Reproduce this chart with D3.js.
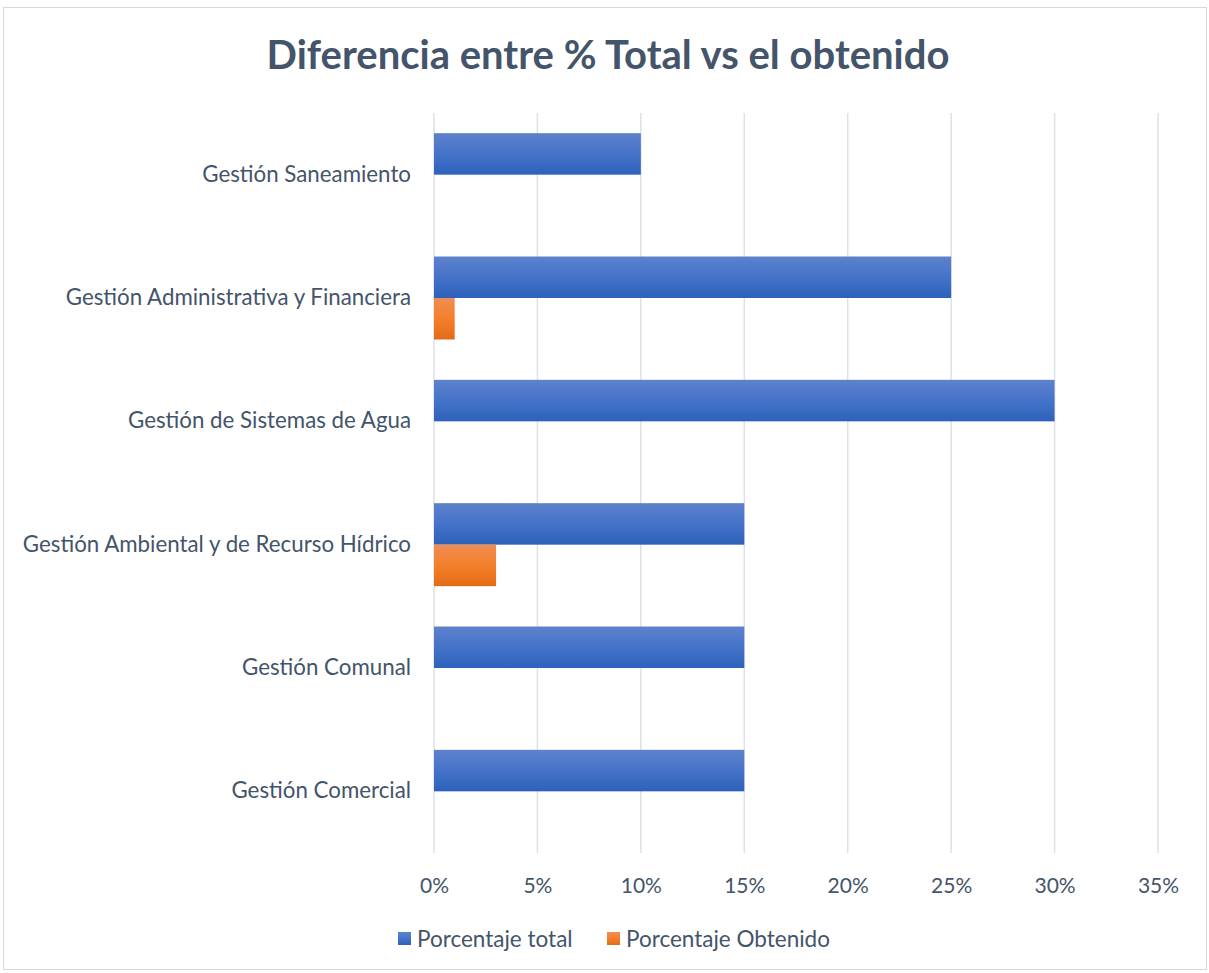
<!DOCTYPE html>
<html>
<head>
<meta charset="utf-8">
<script src="https://cdn.jsdelivr.net/npm/d3@7"></script>
<style>
  html, body { margin: 0; padding: 0; background: #fff; }
  svg { display: block; }
</style>
</head>
<body>
<svg id="chart" width="1209" height="973"></svg>
<script>
// Categories listed bottom-to-top as in the source worksheet
const categories = [
  "Gestión Comercial",
  "Gestión Comunal",
  "Gestión Ambiental y de Recurso Hídrico",
  "Gestión de Sistemas de Agua",
  "Gestión Administrativa y Financiera",
  "Gestión Saneamiento"
];
const porcentajeTotal = [0.15, 0.15, 0.15, 0.30, 0.25, 0.10];
const porcentajeObtenido = [0, 0, 0.03, 0, 0.01, 0];
const seriesNames = ["Porcentaje total", "Porcentaje Obtenido"];
const xTicks = [0, 0.05, 0.10, 0.15, 0.20, 0.25, 0.30, 0.35];

const textColor = "#44546A";
const font = "Lato, 'Open Sans', sans-serif";

const svg = d3.select("#chart");

// Gradients for bar fills
const defs = svg.append("defs");
function grad(id, top, mid, bottom) {
  const g = defs.append("linearGradient").attr("id", id)
    .attr("x1", 0).attr("y1", 0).attr("x2", 0).attr("y2", 1);
  g.append("stop").attr("offset", "0%").attr("stop-color", top);
  g.append("stop").attr("offset", "50%").attr("stop-color", mid);
  g.append("stop").attr("offset", "100%").attr("stop-color", bottom);
}
grad("gBlue", "#5d82cc", "#4573c9", "#2d61ba");
grad("gOrange", "#f08d55", "#f47f2a", "#e36b18");
const fills = ["url(#gBlue)", "url(#gOrange)"];

// Chart frame
svg.append("rect")
  .attr("x", 3.5).attr("y", 7.5).attr("width", 1203).attr("height", 962)
  .attr("fill", "#fff").attr("stroke", "#d9d9d9").attr("stroke-width", 1);

// Title
svg.append("text")
  .attr("x", 608).attr("y", 69)
  .attr("text-anchor", "middle")
  .attr("font-family", font)
  .attr("font-weight", "bold")
  .attr("font-size", 40)
  .attr("fill", textColor)
  .text("Diferencia entre % Total vs el obtenido");

const plot = { left: 434, right: 1158, top: 113, bottom: 853 };

const x = d3.scaleLinear().domain([0, 0.35]).range([plot.left, plot.right]);
const y = d3.scaleBand()
  .domain(categories.slice().reverse())
  .range([plot.top, plot.bottom])
  .paddingInner(0).paddingOuter(0);
const inner = d3.scaleBand()
  .domain(seriesNames)
  .range([0, y.bandwidth()])
  .paddingOuter(0.486).paddingInner(0);

// Vertical gridlines
svg.append("g")
  .selectAll("line")
  .data(xTicks)
  .join("line")
  .attr("x1", d => x(d)).attr("x2", d => x(d))
  .attr("y1", plot.top).attr("y2", plot.bottom)
  .attr("stroke", "#dde1e8").attr("stroke-width", 1.5);

// X axis tick labels
const xAxis = d3.axisBottom(x).tickValues(xTicks).tickFormat(d3.format(".0%")).tickSize(0).tickPadding(0);
const gx = svg.append("g").attr("transform", `translate(0, ${plot.bottom + 33})`).call(xAxis);
gx.select(".domain").remove();
gx.selectAll("text")
  .attr("font-family", font).attr("font-size", 21).attr("fill", textColor)
  .attr("dy", "0.35em").attr("y", 0);

// Y axis category labels
const yAxis = d3.axisLeft(y).tickSize(0).tickPadding(23);
const gy = svg.append("g").attr("transform", `translate(${plot.left}, 0)`).call(yAxis);
gy.select(".domain").remove();
gy.selectAll("text")
  .attr("font-family", font).attr("font-size", 22.3).attr("fill", textColor);

// Bars
const seriesData = [porcentajeTotal, porcentajeObtenido];
seriesData.forEach((vals, si) => {
  svg.append("g")
    .selectAll("rect")
    .data(categories.map((c, i) => ({ c, v: vals[i] })))
    .join("rect")
    .attr("x", x(0))
    .attr("y", d => y(d.c) + inner(seriesNames[si]))
    .attr("width", d => x(d.v) - x(0))
    .attr("height", inner.bandwidth())
    .attr("fill", fills[si]);
});

// Legend
const legendItems = [
  { name: seriesNames[0], x: 398 },
  { name: seriesNames[1], x: 607 }
];
const lg = svg.append("g");
legendItems.forEach((it, i) => {
  lg.append("rect")
    .attr("x", it.x).attr("y", 932).attr("width", 13).attr("height", 13)
    .attr("fill", fills[i]);
  lg.append("text")
    .attr("x", it.x + 19).attr("y", 939)
    .attr("dy", "0.35em")
    .attr("font-family", font).attr("font-size", 22.5).attr("fill", textColor)
    .text(it.name);
});
</script>
</body>
</html>
